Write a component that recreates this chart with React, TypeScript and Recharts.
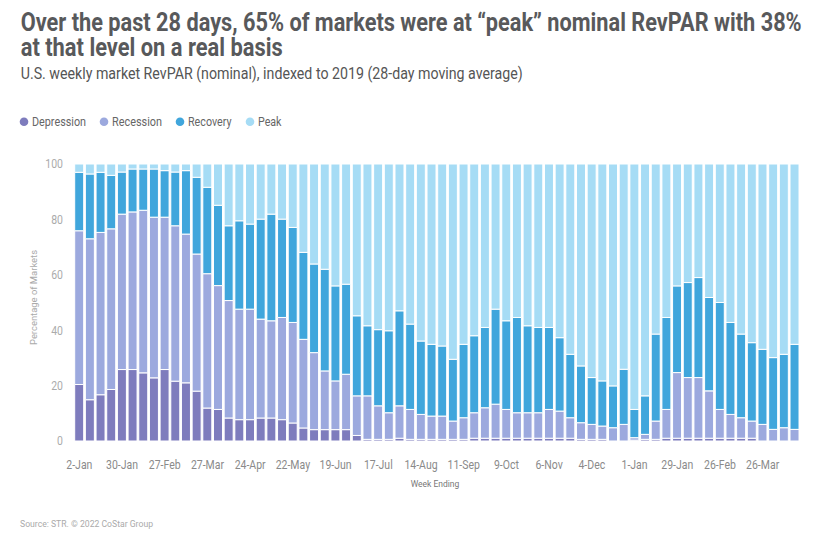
import { BarChart, Bar, XAxis, YAxis } from "recharts";

const weeks = [
  "2-Jan", "9-Jan", "16-Jan", "23-Jan", "30-Jan", "6-Feb", "13-Feb", "20-Feb", "27-Feb",
  "6-Mar", "13-Mar", "20-Mar", "27-Mar", "3-Apr", "10-Apr", "17-Apr", "24-Apr",
  "1-May", "8-May", "15-May", "22-May", "29-May", "5-Jun", "12-Jun", "19-Jun", "26-Jun",
  "3-Jul", "10-Jul", "17-Jul", "24-Jul", "31-Jul", "7-Aug", "14-Aug", "21-Aug", "28-Aug",
  "4-Sep", "11-Sep", "18-Sep", "25-Sep", "2-Oct", "9-Oct", "16-Oct", "23-Oct", "30-Oct",
  "6-Nov", "13-Nov", "20-Nov", "27-Nov", "4-Dec", "11-Dec", "18-Dec", "25-Dec",
  "1-Jan", "8-Jan", "15-Jan", "22-Jan", "29-Jan", "5-Feb", "12-Feb", "19-Feb", "26-Feb",
  "5-Mar", "12-Mar", "19-Mar", "26-Mar", "2-Apr", "9-Apr", "16-Apr",
];

const depression = [
  20.4, 14.9, 16.7, 18.6, 25.8, 25.8, 24.6, 22.8, 25.8, 21.6, 21.0, 18.0, 11.9, 11.4,
  8.3, 7.7, 7.7, 8.3, 8.3, 7.7, 6.5, 4.7, 4.1, 4.1, 4.1, 4.1, 2.0, 0.6, 0.6, 0.6, 1.0,
  0.6, 0.6, 0.6, 0.6, 0.6, 0.6, 1.0, 1.0, 1.0, 1.0, 1.0, 1.0, 1.0, 1.0, 1.0, 1.0, 0.6,
  0.6, 0.6, 0, 0, 0.3, 0.6, 0.6, 1.0, 1.0, 1.0, 1.0, 1.0, 1.0, 1.0, 1.0, 1.0, 0, 0, 0, 0,
];

const recession = [
  55.5, 58.1, 58.6, 58.0, 56.1, 56.9, 58.7, 58.0, 55.0, 56.1, 53.7, 49.5, 48.5, 44.7,
  42.4, 39.9, 39.9, 35.7, 35.1, 36.9, 36.3, 32.0, 27.8, 21.2, 17.6, 20.0, 14.3, 15.7,
  12.1, 9.6, 11.7, 10.8, 9.0, 8.4, 8.4, 6.6, 7.8, 9.2, 11.0, 12.3, 10.4, 9.2, 9.2, 9.2,
  10.4, 9.8, 7.4, 6.0, 5.4, 4.8, 4.8, 6.0, 0.9, 1.8, 6.6, 10.4, 23.7, 21.9, 21.9, 17.1,
  10.4, 8.6, 7.4, 6.2, 6.0, 4.2, 4.8, 4.2,
];

const recovery = [
  21.1, 23.4, 21.7, 19.3, 15.2, 15.5, 14.9, 17.4, 16.8, 19.4, 22.9, 27.7, 31.2, 29.0,
  27.0, 31.9, 30.7, 36.1, 38.5, 35.5, 34.3, 31.4, 32.0, 36.7, 34.3, 32.5, 28.9, 25.3,
  27.5, 29.6, 34.3, 30.8, 26.5, 25.9, 25.3, 22.3, 26.5, 27.8, 29.0, 34.3, 32.0, 34.4,
  31.4, 30.8, 29.6, 26.5, 22.9, 20.5, 16.9, 16.3, 15.1, 19.9, 10.2, 13.9, 31.4, 33.2,
  31.3, 34.3, 36.1, 33.7, 38.6, 33.2, 30.2, 28.3, 27.1, 25.9, 26.5, 30.7,
];

const peak = [
  3.0, 3.6, 3.0, 4.1, 2.9, 1.8, 1.8, 1.8, 2.4, 2.9, 2.4, 4.8, 8.4, 14.9, 22.3, 20.5,
  21.7, 19.9, 18.1, 19.9, 22.9, 31.9, 36.1, 38.0, 44.0, 43.4, 54.8, 58.4, 59.8, 60.2,
  53.0, 57.8, 63.9, 65.1, 65.7, 70.5, 65.1, 62.0, 59.0, 52.4, 56.6, 55.4, 58.4, 59.0,
  59.0, 62.7, 68.7, 72.9, 77.1, 78.3, 80.1, 74.1, 88.6, 83.7, 61.4, 55.4, 44.0, 42.8,
  41.0, 48.2, 50.0, 57.2, 61.4, 64.5, 66.9, 69.9, 68.7, 65.1,
];

const yTicks = [0, 20, 40, 60, 80, 100];

const COLORS = {
  Depression: "#7e7cbd",
  Recession: "#9ca9de",
  Recovery: "#40a6dc",
  Peak: "#a6dcf5",
};

const data = weeks.map((week, i) => ({
  week,
  Depression: depression[i],
  Recession: recession[i],
  Recovery: recovery[i],
  Peak: peak[i],
}));

const FONT = "Roboto, 'Noto Sans', sans-serif";

function XTick(props: any) {
  const { x, y, payload } = props;
  return (
    <text
      transform={`translate(${x},${y + 19.6}) scale(0.84,1)`}
      textAnchor="middle"
      fontSize={12.5}
      fontFamily={FONT}
      fill="#8a8a8a"
    >
      {payload.value}
    </text>
  );
}

function YTick(props: any) {
  const { x, y, payload } = props;
  return (
    <text
      transform={`translate(${x - 3},${y + 4.4}) scale(0.84,1)`}
      textAnchor="end"
      fontSize={12.5}
      fontFamily={FONT}
      fill="#ababab"
    >
      {payload.value}
    </text>
  );
}

const legendItems = [
  { name: "Depression", cx: 24, tx: 32, w: 54 },
  { name: "Recession", cx: 104, tx: 112, w: 50 },
  { name: "Recovery", cx: 180, tx: 188, w: 43.5 },
  { name: "Peak", cx: 250, tx: 258, w: 23.5 },
];

export default function App() {
  return (
    <div style={{ position: "absolute", left: 0, top: 0, width: 818, height: 542, background: "#fff" }}>
      <BarChart
        width={818}
        height={542}
        data={data}
        margin={{ top: 164, right: 18, bottom: 71, left: 0 }}
        barCategoryGap="6.5%"
      >
        <XAxis
          dataKey="week"
          interval={3}
          tickLine={false}
          axisLine={false}
          tick={XTick}
          height={30}
        />
        <YAxis
          domain={[0, 100]}
          ticks={yTicks}
          tickLine={false}
          axisLine={false}
          tick={YTick}
          width={74}
        />
        {(["Depression", "Recession", "Recovery", "Peak"] as const).map((k) => (
          <Bar
            key={k}
            dataKey={k}
            stackId="a"
            fill={COLORS[k]}
            stroke="#fff"
            strokeWidth={1}
            isAnimationActive={false}
          />
        ))}
      </BarChart>
      <svg
        width={818}
        height={542}
        style={{ position: "absolute", left: 0, top: 0, pointerEvents: "none" }}
        fontFamily={FONT}
      >
        <text x={20.7} y={30.5} fontSize={25} fontWeight={700} fill="#58595b" textLength={781} lengthAdjust="spacingAndGlyphs">
          Over the past 28 days, 65% of markets were at “peak” nominal RevPAR with 38%
        </text>
        <text x={20.7} y={55.5} fontSize={25} fontWeight={700} fill="#58595b" textLength={262} lengthAdjust="spacingAndGlyphs">
          at that level on a real basis
        </text>
        <text x={20.7} y={79.3} fontSize={17} fill="#555" textLength={502} lengthAdjust="spacingAndGlyphs">
          U.S. weekly market RevPAR (nominal), indexed to 2019 (28-day moving average)
        </text>
        {legendItems.map((it) => (
          <g key={it.name}>
            <circle cx={it.cx} cy={121.7} r={4.3} fill={COLORS[it.name as keyof typeof COLORS]} />
            <text x={it.tx} y={126} fontSize={13} fill="#666" textLength={it.w} lengthAdjust="spacingAndGlyphs">
              {it.name}
            </text>
          </g>
        ))}
        <text
          transform="translate(36.5,297.5) rotate(-90)"
          textAnchor="middle"
          fontSize={9.5}
          fill="#aaa"
          textLength={95}
          lengthAdjust="spacingAndGlyphs"
        >
          Percentage of Markets
        </text>
        <text x={435} y={486.7} textAnchor="middle" fontSize={9.5} fill="#777" textLength={48.6} lengthAdjust="spacingAndGlyphs">
          Week Ending
        </text>
        <text x={20} y={527} fontSize={9.5} fill="#aaa" textLength={133} lengthAdjust="spacingAndGlyphs">
          Source: STR. © 2022 CoStar Group
        </text>
      </svg>
    </div>
  );
}
